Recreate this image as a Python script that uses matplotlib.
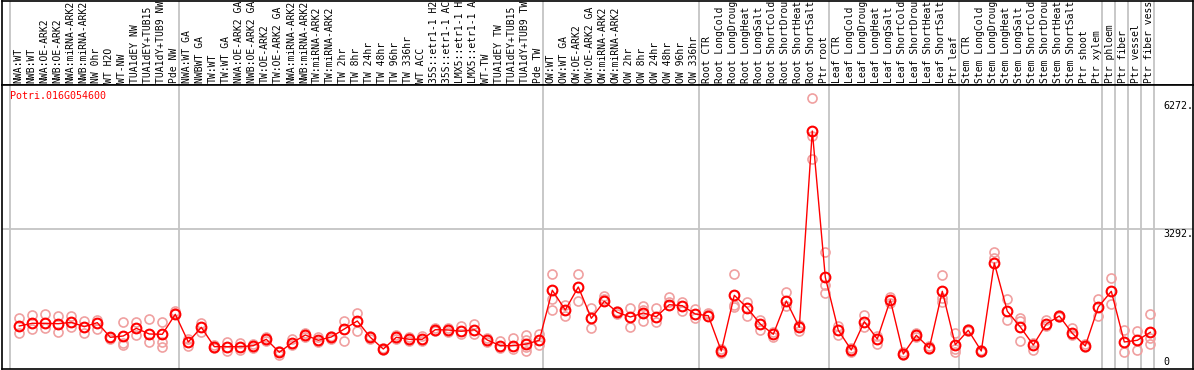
import matplotlib
matplotlib.use("Agg")
import matplotlib.pyplot as plt

gene = "Potri.016G054600"

samples = [
    "NWA:WT", "NWB:WT", "NWA:OE-ARK2", "NWB:OE-ARK2", "NWA:miRNA-ARK2", "NWB:miRNA-ARK2",
    "NW 0hr", "WT H2O", "WT-NW", "TUA1dEY NW", "TUA1dEY+TUB15 NW", "TUA1dY+TUB9 NW", "Pde NW",
    "NWA:WT GA", "NWBWT GA", "TW:WT", "TW:WT GA", "NWA:OE-ARK2 GA", "NWB:OE-ARK2 GA",
    "TW:OE-ARK2", "TW:OE-ARK2 GA", "NWA:miRNA-ARK2 GA", "NWB:miRNA-ARK2 GA", "TW:miRNA-ARK2",
    "TW:miRNA-ARK2", "TW 2hr", "TW 8hr", "TW 24hr", "TW 48hr", "TW 96hr", "TW 336hr", "WT ACC",
    "35S::etr1-1 H2O", "35S::etr1-1 ACC", "LMX5::etr1-1 H2O", "LMX5::etr1-1 ACC", "WT-TW",
    "TUA1dEY TW", "TUA1dEY+TUB15 TW", "TUA1dY+TUB9 TW", "Pde TW",
    "OW:WT", "OW:WT GA", "OW:OE-ARK2", "OW:OE-ARK2 GA", "OW:miRNA-ARK2", "OW:miRNA-ARK2",
    "OW 2hr", "OW 8hr", "OW 24hr", "OW 48hr", "OW 96hr", "OW 336hr",
    "Root CTR", "Root LongCold", "Root LongDrought", "Root LongHeat", "Root LongSalt",
    "Root ShortCold", "Root ShortDrought", "Root ShortHeat", "Root ShortSalt", "Ptr root",
    "Leaf CTR", "Leaf LongCold", "Leaf LongDrought", "Leaf LongHeat", "Leaf LongSalt",
    "Leaf ShortCold", "Leaf ShortDrought", "Leaf ShortHeat", "Leaf ShortSalt", "Ptr leaf",
    "Stem CTR", "Stem LongCold", "Stem LongDrought", "Stem LongHeat", "Stem LongSalt",
    "Stem ShortCold", "Stem ShortDrought", "Stem ShortHeat", "Stem ShortSalt", "Ptr shoot",
    "Ptr xylem", "Ptr phloem", "Ptr fiber", "Ptr vessel", "Ptr fiber vessel",
]

# first sample index of each group (last = end)
group_starts = [0, 13, 41, 53, 63, 73, 84, 85, 86, 87, 88]

means = [
    944, 1009, 1009, 999, 1033, 927, 1024, 670, 702, 888, 750, 743, 1227,
    557, 912, 443, 443, 443, 467, 622, 307, 540, 726, 598, 678, 871, 1065, 670, 387, 670,
    622, 622, 854, 847, 816, 854, 605, 467, 467, 508, 598,
    1808, 1331, 1888, 1130, 1542, 1275, 1162, 1258, 1169, 1459, 1435, 1234,
    1193, 339, 1687, 1379, 992, 743, 1549, 912, 5663, 2122,
    840, 363, 1048, 629, 1573, 266, 719, 411, 1784, 491,
    840, 339, 2468, 1300, 920, 484, 992, 1186, 767, 460, 1404,
    1784, 557, 598, 791,
]

replicates = [
    [1145, 774], [1217, 864], [1234, 903], [1186, 799], [1193, 920], [1058, 767],
    [1089, 864], [685, 641], [1041, 540, 491], [1041, 719], [1106, 549], [1041, 557, 436],
    [1314, 1251],
    [636, 453], [1024, 799], [484, 404], [557, 346], [540, 363], [508, 419], [670, 581],
    [346, 235], [622, 484], [767, 685], [670, 549], [702, 622], [1058, 581], [1258, 823],
    [702, 622], [419, 356], [726, 629], [678, 581], [709, 581], [888, 823], [888, 806],
    [951, 743], [999, 743], [646, 564], [588, 404], [646, 387], [719, 605, 428, 339],
    [757, 477],
    [2202, 1604, 1324], [1459, 1193], [2195, 1542], [1379, 888], [1663, 1604], [1307, 1234],
    [1379, 920], [1428, 1331, 1058], [1379, 1033], [1639, 1525], [1532, 1300], [1348, 1137],
    [1266, 1234], [387, 290], [2195, 1459, 1396], [1532, 1193], [1089, 840], [791, 685],
    [1759, 1428], [968, 823], [6454, 5542, 4985], [2735, 1929, 1735],
    [944, 733], [411, 307], [1217, 927], [709, 501], [1653, 1493], [315, 230], [774, 678],
    [448, 387], [2171, 1614, 1532], [782, 380, 315],
    [883, 811], [370, 307], [2735, 2589], [1590, 1082], [1130, 1072, 581], [540, 370],
    [1089, 944], [1210, 1162], [888, 726], [496, 424], [1590, 1186],
    [2105, 1476], [840, 322], [830, 363], [1234, 646, 508],
]

y_labels = [6272, 3292, 0]
grid_value = 3292

W, H = 1194, 370
fig = plt.figure(figsize=(W / 100, H / 100), dpi=100)
mono = "DejaVu Sans Mono"

# pixel geometry of the original layout
x0, x1 = 2, 1193
px_first, px_step = 19.3, 13.0
xlim = ((x0 - px_first) / px_step, (x1 - px_first) / px_step)

ax_h = fig.add_axes([x0 / W, (H - 85) / H, (x1 - x0) / W, 84.5 / H])
ax = fig.add_axes([x0 / W, (H - 369) / H, (x1 - x0) / W, (369 - 85) / H])

for a in (ax_h, ax):
    a.set_xlim(*xlim)
    a.set_xticks([])
    a.set_yticks([])
    for s in a.spines.values():
        s.set_color("black")
        s.set_linewidth(1.2)
    for b in group_starts:
        a.axvline(b - 0.68, color="#c4c4c4", lw=1.3, zorder=0)

# header column labels, cut to the width the header box holds
ax_h.set_ylim(0, 1)
for i, name in enumerate(samples):
    ax_h.text(i - 0.1, 0.025, name[:14], rotation=90, ha="center", va="bottom",
              family=mono, fontsize=7.0)

ax.set_ylim(-97, 6776)
ax.axhline(grid_value, color="#c4c4c4", lw=1.3, zorder=0)

for i, reps in enumerate(replicates):
    ax.plot([i] * len(reps), reps, "o", ms=6.5, mfc="none", mec="#f0a0a0", mew=1.2, zorder=2)

xs = list(range(len(means)))
ax.plot(xs, means, "-", color="red", lw=1.0, zorder=3)
ax.plot(xs, means, "o", ms=7.0, mfc="none", mec="red", mew=1.5, zorder=4)

ax.text(-0.72, 6510, gene, color="red", family=mono, fontsize=7.2, ha="left", va="center")

lab_x = (1163 - px_first) / px_step
ax.text(lab_x, 6272, f"{y_labels[0]}.", family=mono, fontsize=7.2, ha="left", va="center")
ax.text(lab_x, 3292, f"{y_labels[1]}.", family=mono, fontsize=7.2, ha="left", va="top")
ax.text(lab_x, 73, f"{y_labels[2]}", family=mono, fontsize=7.2, ha="left", va="center")

fig.savefig("out.png", dpi=100)
